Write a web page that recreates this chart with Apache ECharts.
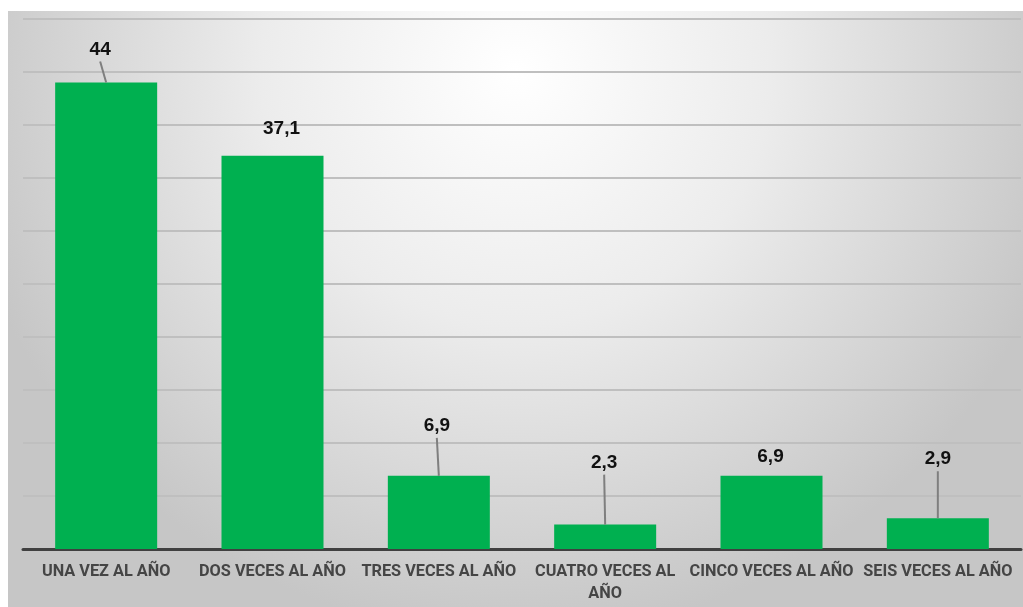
<!DOCTYPE html>
<html>
<head>
<meta charset="utf-8">
<script src="https://cdn.jsdelivr.net/npm/echarts@6/dist/echarts.min.js"></script>
<style>
html,body{margin:0;padding:0;background:#fff;}
#c{position:absolute;left:8px;top:11px;width:1015px;height:596px;}
</style>
</head>
<body>
<div id="c"></div>
<script>
// Data
const categories = ['UNA VEZ AL AÑO','DOS VECES AL AÑO','TRES VECES AL AÑO','CUATRO VECES AL AÑO','CINCO VECES AL AÑO','SEIS VECES AL AÑO'];
const values = [44, 37.1, 6.9, 2.3, 6.9, 2.9];
const valueLabels = ['44','37,1','6,9','2,3','6,9','2,9'];

// Label placement (pixel offsets from bar top) and whether a leader line is drawn
const labelOffsets = [[-6,-25],[9,-19],[-2,-42],[-1,-54],[-1,-11],[0,-51]];
const leaderLines = [true,false,true,true,false,true];

const chart = echarts.init(document.getElementById('c'), null, {renderer:'canvas'});

const option = {
  animation: false,
  backgroundColor: {
    type: 'radial', x: 0.5, y: 0.1, r: 0.95,
    colorStops: [
      {offset: 0, color: '#ffffff'},
      {offset: 0.45, color: '#ececec'},
      {offset: 1, color: '#c6c6c6'}
    ]
  },
  grid: {left: 15, right: 2, top: 8, bottom: 58, containLabel: false},
  xAxis: {
    type: 'category',
    data: categories,
    axisLine: {show: true, lineStyle: {color: '#404040', width: 3}},
    axisTick: {show: false},
    axisLabel: {
      interval: 0,
      color: '#454545',
      fontFamily: "Roboto, sans-serif",
      fontWeight: 'bold',
      fontSize: 16.3,
      lineHeight: 22,
      margin: 12,
      formatter: function (v) {
        if (v.length > 18) {
          const i = v.lastIndexOf(' ');
          return v.slice(0, i) + '\n' + v.slice(i + 1);
        }
        return v;
      }
    }
  },
  yAxis: {
    type: 'value',
    min: 0, max: 50, interval: 5,
    axisLine: {show: false},
    axisTick: {show: false},
    axisLabel: {show: false},
    splitLine: {show: true, lineStyle: {color: '#bfbfbf', width: 2}}
  },
  series: [
    {
      type: 'bar',
      barWidth: 102,
      itemStyle: {color: '#00B050'},
      data: values.map(function (v, i) {
        return {
          value: v,
          label: {offset: labelOffsets[i]}
        };
      }),
      label: {
        show: true,
        position: 'top',
        distance: 0,
        color: '#111111',
        fontFamily: "'Liberation Sans', sans-serif",
        fontWeight: 'bold',
        fontSize: 19,
        lineHeight: 16,
        formatter: function (p) { return valueLabels[p.dataIndex]; }
      },
      z: 2
    },
    {
      type: 'custom',
      z: 3,
      silent: true,
      data: values.map(function (v, i) { return [i, v]; }),
      renderItem: function (params, api) {
        const i = api.value(0);
        if (!leaderLines[i]) return null;
        const p = api.coord([i, api.value(1)]);
        const off = labelOffsets[i];
        const lx = p[0] + off[0];
        const ly = p[1] + off[1] + 4;
        return {
          type: 'line',
          shape: {x1: p[0], y1: p[1], x2: lx, y2: ly},
          style: {stroke: '#7f7f7f', lineWidth: 2}
        };
      }
    }
  ]
};
chart.setOption(option);
</script>
</body>
</html>
